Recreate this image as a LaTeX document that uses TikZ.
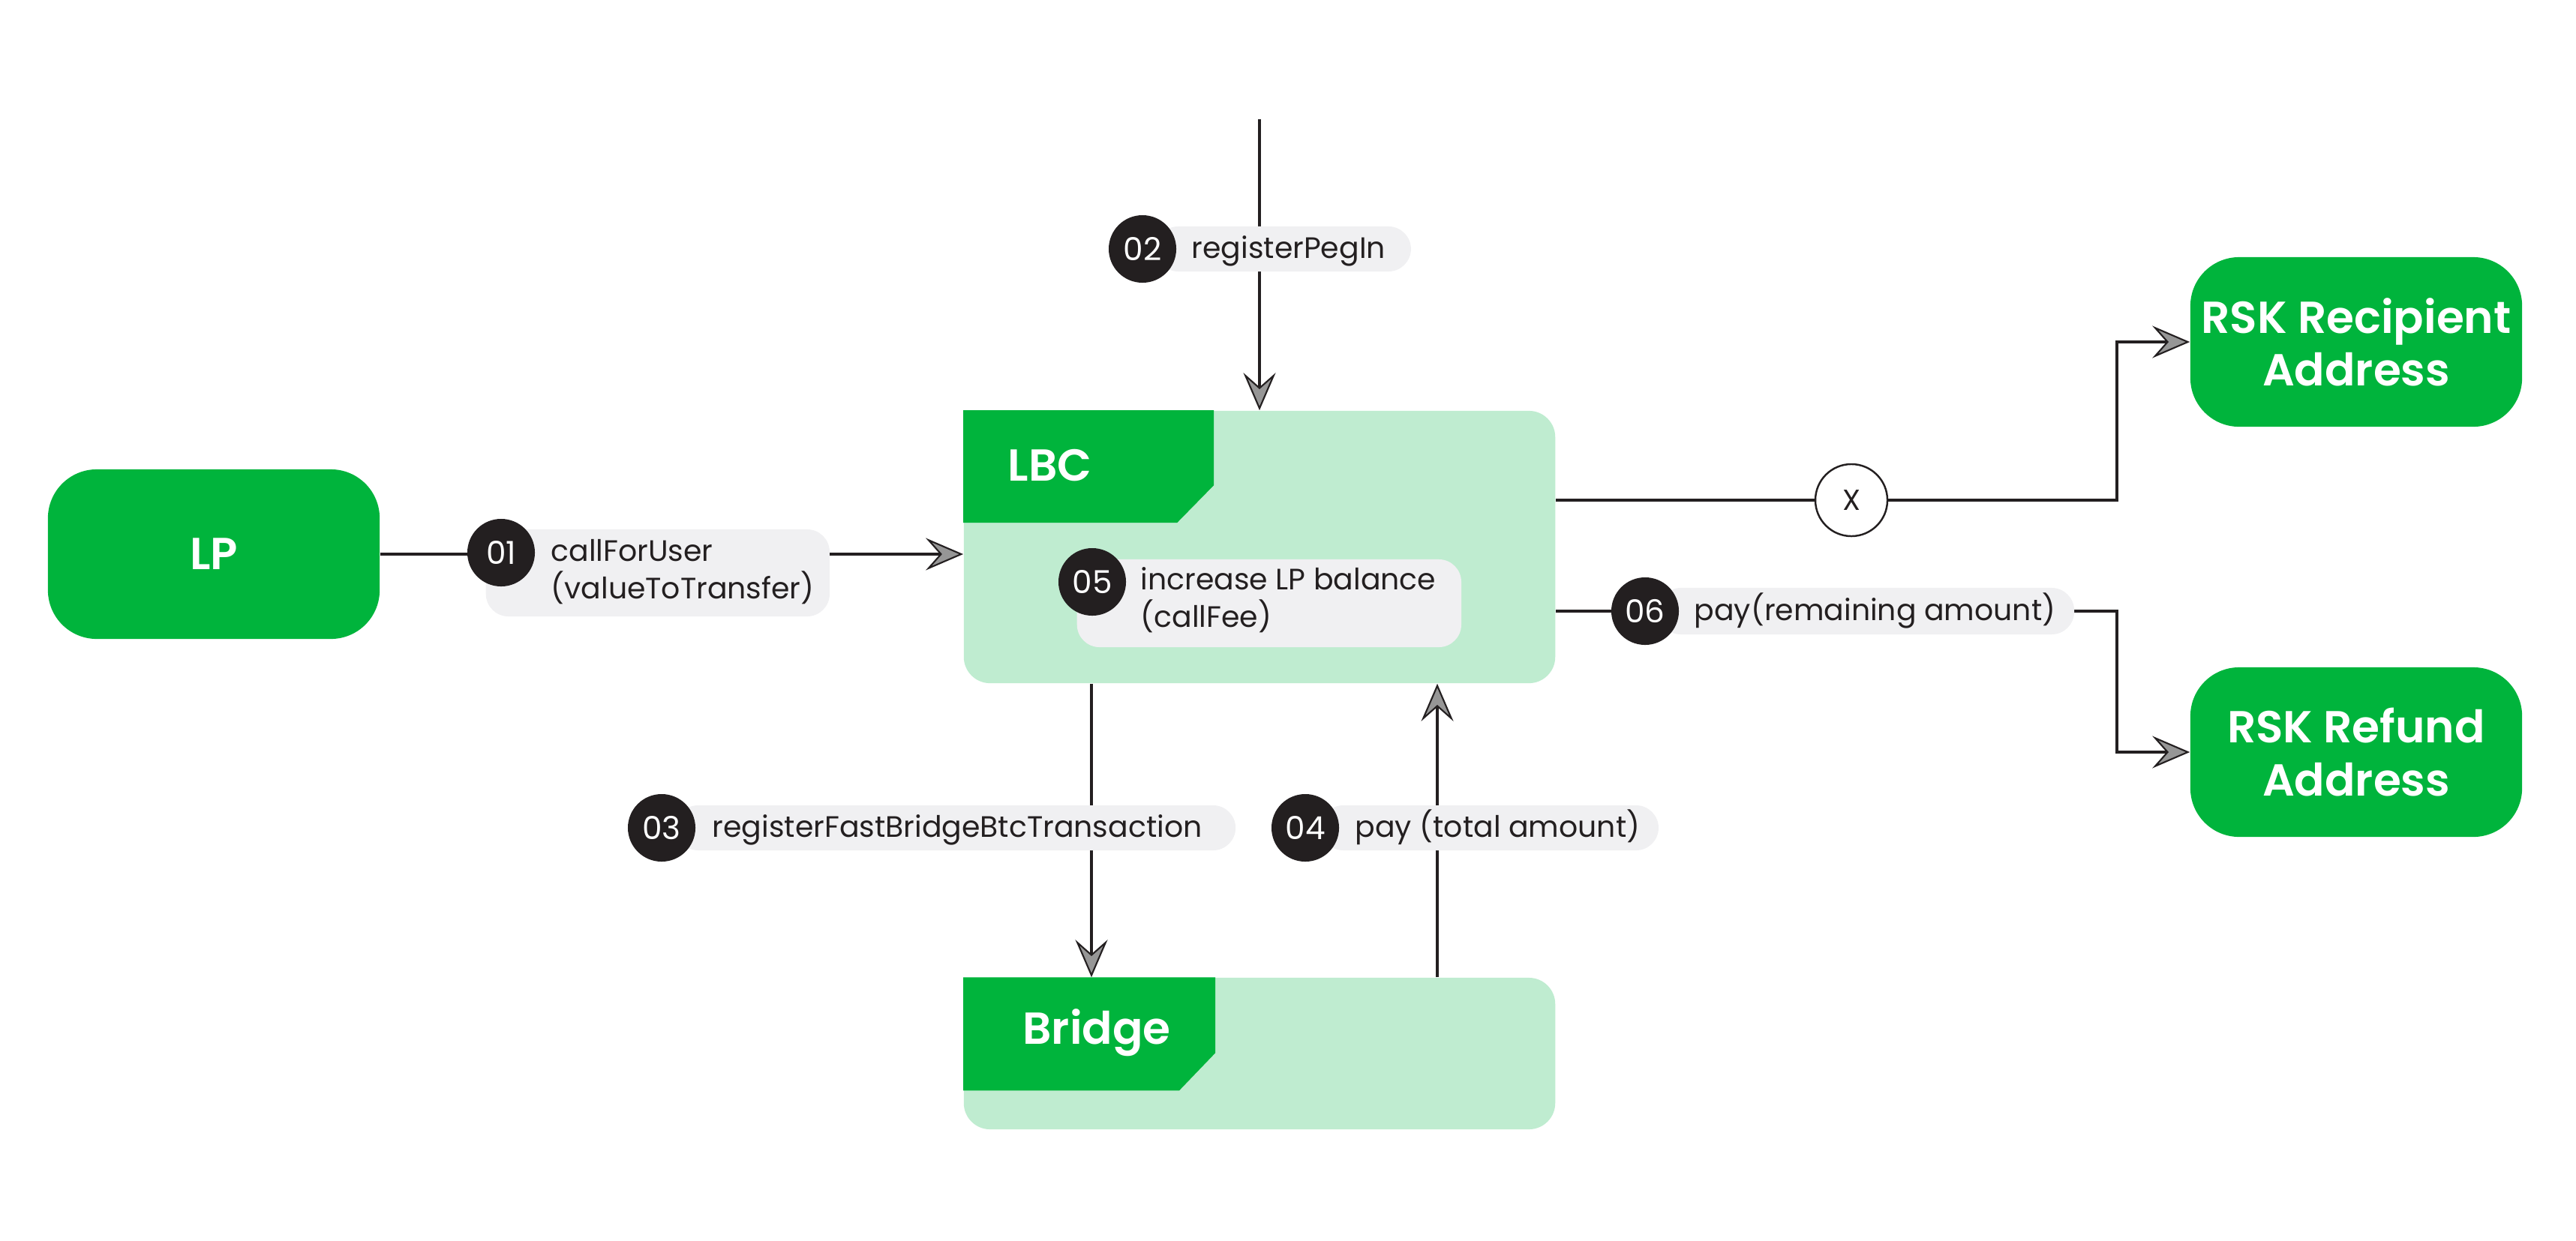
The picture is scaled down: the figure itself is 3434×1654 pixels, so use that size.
\documentclass[tikz,border=0pt]{standalone}
\usepackage{fontspec}
\setmainfont{Poppins}
\newfontfamily\semib{Poppins SemiBold}
\usetikzlibrary{arrows.meta}
\definecolor{brand}{RGB}{0,180,60}
\definecolor{lightg}{RGB}{191,236,208}
\definecolor{pill}{RGB}{240,240,242}
\definecolor{ink}{RGB}{35,31,32}
\definecolor{tipgray}{RGB}{150,150,150}
\begin{document}
\begin{tikzpicture}[x=0.01cm,y=-0.01cm,
 conn/.style={draw=ink,line width=1.1pt},
 arr/.style={conn,-{Stealth[length=0.5cm,width=0.43cm,inset=0.19cm,fill=tipgray,line width=0.6pt]}},
 actor/.style={fill=brand,rounded corners=0.65cm,minimum width=4.42cm,minimum height=2.26cm,text=white,font=\fontsize{17}{20}\selectfont\semib,align=center,inner sep=0pt},
 container/.style={fill=lightg,rounded corners=0.35cm,minimum width=7.88cm,inner sep=0pt},
 headtxt/.style={text=white,font=\fontsize{17}{20}\selectfont\semib,inner sep=0pt},
 badge/.style={circle,fill=ink,minimum size=0.9cm,inner sep=0pt,text=white,font=\fontsize{12}{14}\selectfont},
 pillbox/.style={fill=pill,rounded corners=0.3cm,inner sep=0pt,anchor=west},
 ltext/.style={anchor=west,inner sep=0pt,align=left,font=\fontsize{11.2}{14.2}\selectfont,text=ink},
 stext/.style={anchor=base west,inner sep=0pt,font=\fontsize{11.2}{14.2}\selectfont,text=ink},
]
\useasboundingbox (0,0) rectangle (3434,1654);

% actors
\node[actor] (LP) at (285,739) {LP};
\node[actor] (RR) at (3141,456) {RSK Recipient\\Address};
\node[actor] (RF) at (3141,1003) {RSK Refund\\Address};

% containers
\node[container,minimum height=3.63cm] (LBC) at (1679,729.5) {};
\node[container,minimum height=2.02cm] (BR) at (1679,1405) {};
\fill[brand] (LBC.north west) -- ++(334,0) -- ++(0,100) -- ++(-49,50) -- ++(-285,0) -- cycle;
\fill[brand] (BR.north west) -- ++(336,0) -- ++(0,101) -- ++(-48,50) -- ++(-288,0) -- cycle;
\node[headtxt,anchor=west] (LBCt) at (1343,621) {LBC};
\node[headtxt] (BRt) at (1462,1377) {Bridge};

% connectors
\coordinate (top) at (1679,159);
\draw[arr] (top) -- (LBC.north);
\draw[arr] (LP.east) -- (LP.east -| LBC.west);

\node[circle,draw=ink,fill=white,line width=0.7pt,minimum size=0.96cm,inner sep=0pt,font=\fontsize{11}{13}\selectfont,text=ink] (X) at (2468,667) {X};
\coordinate (j1) at (2822,667);
\coordinate (j2) at (2822,815);
\draw[conn] (X.west -| LBC.east) -- (X.west);
\draw[arr] (X.east) -- (j1) |- (RR.west);
\draw[arr] (LBC.east |- j2) -- (j2) |- (RF.west);

\coordinate (c3) at (1455,0);
\coordinate (c4) at (1916,0);
\draw[arr] (LBC.south -| c3) -- (BR.north -| c3);
\draw[arr] (BR.north -| c4) -- (LBC.south -| c4);

% labels
\node[pillbox,minimum width=4.58cm,minimum height=1.16cm] (P1) at (647,764) {};
\node[badge] (B1) at (668,737) {01};
\node[ltext] (T1) at (734,763) {callForUser\\(valueToTransfer)};

\node[pillbox,minimum width=3.40cm,minimum height=0.6cm] (P2) at (1540,332) {};
\node[badge] (B2) at (1523,332) {02};
\node[stext] (T2) at (1588,344) {registerPegIn};

\node[pillbox,minimum width=5.12cm,minimum height=1.17cm] (P5) at (1435,804.5) {};
\node[badge] (B5) at (1456,776) {05};
\node[ltext] (T5) at (1520,800) {increase LP balance\\(callFee)};

\node[pillbox,minimum width=7.46cm,minimum height=0.6cm] (P3) at (900,1104) {};
\node[badge] (B3) at (882,1104) {03};
\node[stext] (T3) at (949,1116) {registerFastBridgeBtcTransaction};

\node[pillbox,minimum width=4.50cm,minimum height=0.6cm] (P4) at (1760,1104) {};
\node[badge] (B4) at (1740,1104) {04};
\node[stext] (T4) at (1806,1116) {pay (total amount)};

\node[pillbox,minimum width=5.54cm,minimum height=0.62cm] (P6) at (2210,815) {};
\node[badge] (B6) at (2193,815) {06};
\node[stext] (T6) at (2258,827) {pay(remaining amount)};
\end{tikzpicture}
\end{document}
